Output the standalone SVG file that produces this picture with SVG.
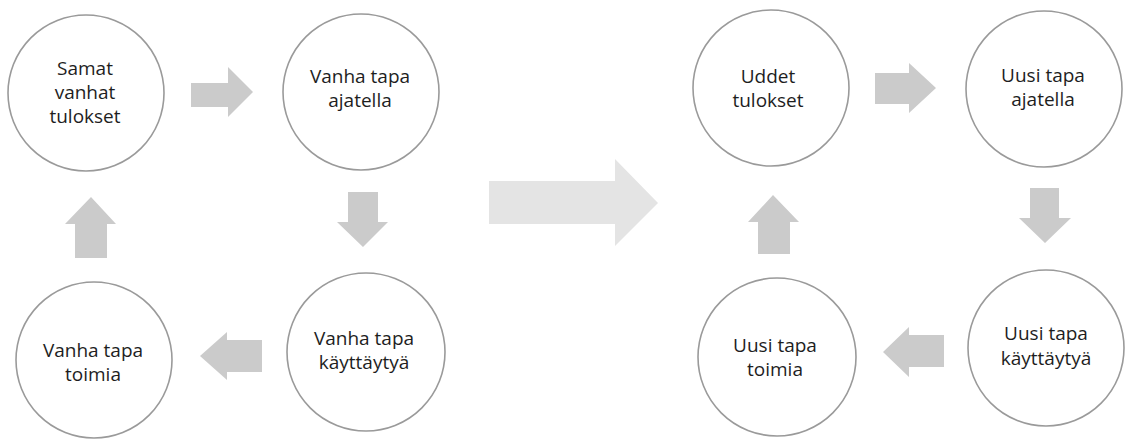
<svg xmlns="http://www.w3.org/2000/svg" width="1126" height="439" viewBox="0 0 1126 439">
<style>
.node circle{fill:#fff;stroke:#9a9a9a;stroke-width:1.6}
.node text{font-family:"Open Sans","Noto Sans",sans-serif;font-size:19px;fill:#1e1e1e;text-anchor:middle}
.arr{fill:#cbcbcb}
.big{fill:#e4e4e4}
</style>
<rect width="1126" height="439" fill="#fff"/>
<g id="connectors">
<polygon class="arr" points="191,83 228,83 228,67 253,92 228,117 228,107 191,107"/>
<polygon class="arr" points="348,192 378,192 378,222 388,222 363,247 337,222 348,222"/>
<polygon class="arr" points="262,340 227,340 227,332 200,356 227,380 227,372 262,372"/>
<polygon class="arr" points="75,258 107,258 107,224 116,224 91,197 65,224 75,224"/>
<polygon class="big" points="489,181 615,181 615,159 658,203 615,246 615,224 489,224"/>
<polygon class="arr" points="875,73 909,73 909,63 936,88 909,113 909,104 875,104"/>
<polygon class="arr" points="1030,188 1059,188 1059,218 1071,218 1045,243 1019,218 1030,218"/>
<polygon class="arr" points="944,335 909,335 909,327 883,352 909,377 909,367 944,367"/>
<polygon class="arr" points="758,254 790,254 790,222 799,222 773,195 748,222 758,222"/>
</g>
<g id="n1" class="node"><circle cx="86" cy="93" r="78"/><text x="85" y="75">Samat</text><text x="85" y="99">vanhat</text><text x="85" y="123">tulokset</text></g>
<g id="n2" class="node"><circle cx="361" cy="92" r="78"/><text x="360" y="83">Vanha tapa</text><text x="360" y="107">ajatella</text></g>
<g id="n3" class="node"><circle cx="366" cy="352" r="79"/><text x="364" y="345">Vanha tapa</text><text x="364" y="369">käyttäytyä</text></g>
<g id="n4" class="node"><circle cx="94" cy="360" r="78"/><text x="93" y="357">Vanha tapa</text><text x="93" y="381">toimia</text></g>
<g id="n5" class="node"><circle cx="771" cy="88" r="78"/><text x="768" y="83">Uddet</text><text x="768" y="107">tulokset</text></g>
<g id="n6" class="node"><circle cx="1044" cy="89" r="78"/><text x="1043" y="82">Uusi tapa</text><text x="1043" y="106">ajatella</text></g>
<g id="n7" class="node"><circle cx="1046" cy="348" r="78"/><text x="1046" y="340">Uusi tapa</text><text x="1046" y="365">käyttäytyä</text></g>
<g id="n8" class="node"><circle cx="777" cy="357" r="79"/><text x="775" y="352">Uusi tapa</text><text x="775" y="376">toimia</text></g>
</svg>
